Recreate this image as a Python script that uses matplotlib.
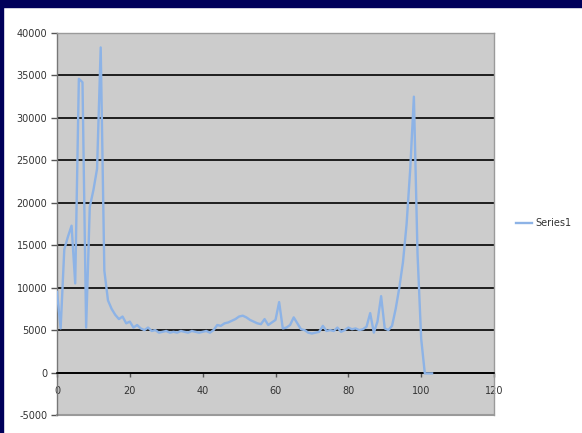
import matplotlib
matplotlib.use("Agg")
import matplotlib.pyplot as plt
from matplotlib.patches import Rectangle

x_values = list(range(0, 104))
y_values = [
    9500, 5200, 14500, 16000, 17300, 10500, 34600, 34200, 5300, 19500,
    21500, 24000, 38300, 12000, 8500, 7500, 6800, 6300, 6600, 5800,
    6000, 5300, 5600, 5200, 5000, 5300, 4900, 5000, 4700, 4800,
    4900, 4700, 4800, 4700, 4900, 4800, 4700, 4900, 4800, 4700,
    4800, 4900, 4700, 5000, 5600, 5500, 5800, 5900, 6100, 6300,
    6600, 6700, 6500, 6200, 6000, 5800, 5700, 6300, 5600, 5900,
    6200, 8300, 5200, 5300, 5600, 6500, 5800, 5100, 5000, 4700,
    4600, 4700, 4800, 5500, 4900, 5000, 4900, 5300, 4800, 5000,
    5300, 5100, 5200, 5000, 5100, 5400, 7000, 4700, 6000, 9000,
    5200, 5000, 5500, 7500, 10000, 13000, 17500, 24000, 32500, 14000,
    4000, -100, -100, -100,
]
series_name = "Series1"
x_ticks = [0, 20, 40, 60, 80, 100, 120]
y_ticks = [-5000, 0, 5000, 10000, 15000, 20000, 25000, 30000, 35000, 40000]

fig = plt.figure(figsize=(5.82, 4.33), dpi=100)
fig.patch.set_facecolor("white")

# navy border (top bar and left edge)
navy = "#00005a"
fig.patches.append(Rectangle((0, 1 - 7/433), 1, 7/433, transform=fig.transFigure, color=navy, zorder=0))
fig.patches.append(Rectangle((0, 0), 3/582, 1, transform=fig.transFigure, color=navy, zorder=0))

ax = fig.add_axes([57/582, 1 - 415/433, (494 - 57)/582, (415 - 33)/433])
ax.set_facecolor("#cccccc")
ax.set_xlim(0, 120)
ax.set_ylim(-5000, 40000)
ax.set_xticks(x_ticks)
ax.set_yticks(y_ticks)
ax.set_yticklabels([str(v) for v in y_ticks])
ax.set_xticklabels([str(v) for v in x_ticks])

ax.grid(axis="y", color="black", linewidth=1.2)
ax.set_axisbelow(True)

ax.plot(x_values, y_values, color="#8db3e6", linewidth=1.7, label=series_name, zorder=3)

for s in ["top", "right"]:
    ax.spines[s].set_color("#9a9a9a")
    ax.spines[s].set_linewidth(1.0)
ax.spines["left"].set_color("#777777")
ax.spines["left"].set_linewidth(1.0)
ax.spines["bottom"].set_position(("data", 0))
ax.spines["bottom"].set_color("black")
ax.spines["bottom"].set_linewidth(1.2)
ax.axhline(-5000, color="#9a9a9a", linewidth=1.5, clip_on=False)

ax.tick_params(axis="y", direction="out", length=4, width=1, color="#555555",
               labelsize=7, labelcolor="#333333", pad=3)
ax.tick_params(axis="x", direction="out", length=3, width=1, color="#555555",
               labelsize=7, labelcolor="#333333", pad=7)

fig.legend(loc="center left", bbox_to_anchor=(516/582, 0.485), frameon=False,
           borderpad=0, borderaxespad=0, fontsize=7, handlelength=1.6,
           handletextpad=0.4, labelcolor="#333333")

fig.savefig("out.png", dpi=100, facecolor=fig.get_facecolor())
